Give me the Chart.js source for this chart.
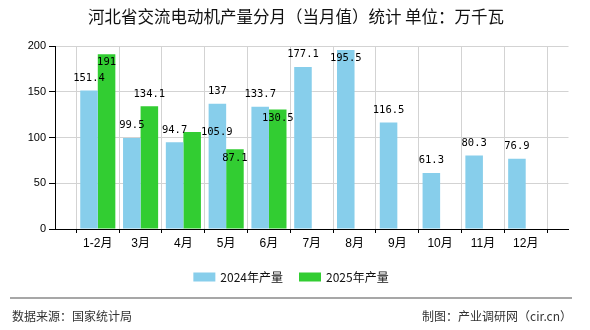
<!DOCTYPE html>
<html>
<head>
<meta charset="utf-8">
<script src="https://cdn.jsdelivr.net/npm/chart.js@4/dist/chart.umd.min.js"></script>
<style>
  html, body { margin: 0; padding: 0; background: #fff; }
  canvas { display: block; }
</style>
</head>
<body>
<canvas id="barChart" width="590" height="330"></canvas>
<script>
const months = ['1-2月', '3月', '4月', '5月', '6月', '7月', '8月', '9月', '10月', '11月', '12月'];
const output2024 = [151.4, 99.5, 94.7, 137, 133.7, 177.1, 195.5, 116.5, 61.3, 80.3, 76.9];
const output2025 = [191, 134.1, 105.9, 87.1, 130.5];
const yTicks = [0, 50, 100, 150, 200];
const seriesNames = ['2024年产量', '2025年产量'];
const seriesColors = ['#87CEEB', '#32CD32'];

const titleText = '河北省交流电动机产量分月（当月值）统计 单位：万千瓦';
const sourceText = '数据来源：国家统计局';
const creditText = '制图：产业调研网（cir.cn）';

// blank slot on each side so the months sit on the grid lines
const labels = [''].concat(months, ['']);
function pad(values) {
  const out = [null].concat(values);
  while (out.length < labels.length) out.push(null);
  return out;
}

const cjk = '"Noto Sans CJK SC", sans-serif';

// value labels: above the bar, inside the top if there is no room or it would hit another label
const valueLabels = {
  id: 'valueLabels',
  afterDatasetsDraw(chart) {
    const ctx = chart.ctx;
    const area = chart.chartArea;
    const placed = [];
    const hits = (b) => placed.some(p => Math.abs(p.x - b.x) < (p.w + b.w) / 2 && Math.abs(p.y - b.y) < 12);
    ctx.save();
    ctx.font = '10.5px "DejaVu Sans Mono", monospace';
    ctx.fillStyle = '#000';
    ctx.textAlign = 'center';
    ctx.textBaseline = 'middle';
    chart.data.datasets.forEach((ds, di) => {
      chart.getDatasetMeta(di).data.forEach((bar, i) => {
        const v = ds.data[i];
        if (v == null) return;
        const text = String(v);
        const w = ctx.measureText(text).width;
        const above = { x: bar.x, y: bar.y - 12.5, w };
        const inside = { x: bar.x, y: bar.y + 8.5, w };
        const right = { x: bar.x + bar.width / 2 + w / 2, y: bar.y, w };
        let pos = above;
        if (above.y - 6 < area.top) pos = inside;
        else if (hits(above)) pos = hits(inside) ? right : inside;
        placed.push(pos);
        ctx.fillText(text, pos.x, pos.y);
      });
    });
    ctx.restore();
  }
};

// title, legend and footer
const frame = {
  id: 'frame',
  beforeDraw(chart) {
    const ctx = chart.ctx;
    ctx.save();
    ctx.fillStyle = '#fff';
    ctx.fillRect(0, 0, chart.width, chart.height);
    ctx.restore();
  },
  afterDraw(chart) {
    const ctx = chart.ctx;
    ctx.save();
    ctx.textBaseline = 'middle';

    ctx.font = '16.5px ' + cjk;
    ctx.fillStyle = '#111';
    ctx.textAlign = 'center';
    ctx.fillText(titleText, 296, 17);

    // legend
    ctx.font = '12px ' + cjk;
    ctx.textAlign = 'left';
    const boxW = 22, boxH = 9, gap = 5, between = 16;
    const items = chart.data.datasets.map(ds => ({ label: ds.label, color: ds.backgroundColor, w: ctx.measureText(ds.label).width }));
    let total = 0;
    items.forEach((it, k) => { total += boxW + gap + it.w + (k ? between : 0); });
    let x = 291 - total / 2;
    const ly = 277;
    items.forEach(it => {
      ctx.fillStyle = it.color;
      ctx.fillRect(x, ly - boxH / 2, boxW, boxH);
      ctx.fillStyle = '#111';
      ctx.fillText(it.label, x + boxW + gap, ly);
      x += boxW + gap + it.w + between;
    });

    // footer
    ctx.strokeStyle = '#8a8a8a';
    ctx.lineWidth = 1.5;
    ctx.beginPath();
    ctx.moveTo(10, 298);
    ctx.lineTo(572, 298);
    ctx.stroke();
    ctx.fillStyle = '#333';
    ctx.font = '12px ' + cjk;
    ctx.textAlign = 'left';
    ctx.fillText(sourceText, 12, 316);
    ctx.textAlign = 'right';
    ctx.fillText(creditText, 572, 316);
    ctx.restore();
  }
};

new Chart(document.getElementById('barChart').getContext('2d'), {
  type: 'bar',
  data: {
    labels: labels,
    datasets: [
      { label: seriesNames[0], data: pad(output2024), backgroundColor: seriesColors[0] },
      { label: seriesNames[1], data: pad(output2025), backgroundColor: seriesColors[1] }
    ]
  },
  options: {
    responsive: false,
    animation: false,
    devicePixelRatio: 1,
    categoryPercentage: 0.82,
    barPercentage: 1,
    layout: { padding: { left: 10, right: 21.5, top: 46, bottom: 76 } },
    scales: {
      x: {
        offset: false,
        grid: { color: '#d3d3d3', tickColor: '#000', tickLength: 4 },
        border: { color: '#000' },
        ticks: {
          color: '#000',
          padding: 3,
          autoSkip: false,
          maxRotation: 0,
          font: { family: '"Liberation Sans", "Noto Sans CJK SC", sans-serif', size: 12 }
        },
        afterFit(scale) { scale.height = 25; }
      },
      y: {
        min: yTicks[0],
        max: yTicks[yTicks.length - 1],
        afterBuildTicks(scale) { scale.ticks = yTicks.map(v => ({ value: v })); },
        grid: { color: '#d3d3d3', tickColor: '#000', tickLength: 6 },
        border: { color: '#000' },
        ticks: {
          color: '#000',
          padding: 3,
          font: { family: '"Liberation Sans", sans-serif', size: 11 }
        },
        afterFit(scale) { scale.width = 45; }
      }
    },
    plugins: {
      legend: { display: false },
      title: { display: false },
      tooltip: { enabled: false }
    }
  },
  plugins: [frame, valueLabels]
});
</script>
</body>
</html>
